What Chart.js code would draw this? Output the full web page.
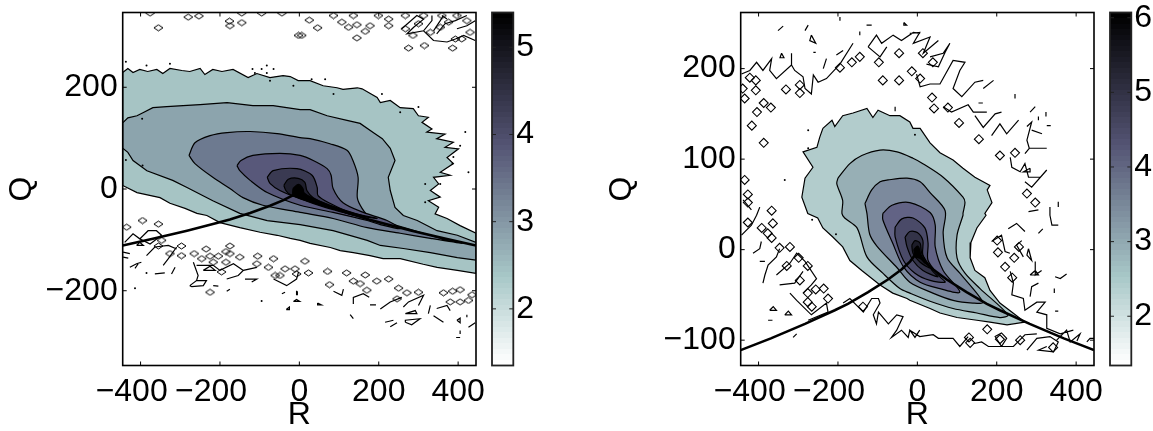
<!DOCTYPE html>
<html><head><meta charset="utf-8">
<style>html,body{margin:0;padding:0;background:#fff;overflow:hidden}
#wrap{position:relative;width:1153px;height:431px}
canvas{position:absolute;top:0}</style>
<script src="https://cdn.jsdelivr.net/npm/chart.js@4"></script>
</head><body><div id="wrap">
<canvas id="c1" style="left:0" width="516" height="431"></canvas>
<canvas id="c2" style="left:470px" width="100" height="431"></canvas>
<canvas id="c3" style="left:600px" width="534" height="431"></canvas>
<canvas id="c4" style="left:1090px" width="63" height="431"></canvas>
</div>
<script>
// ---- axis ticks ----
const xTicks=[-400,-200,0,200,400];
const leftYTicks=[-200,0,200];
const rightYTicks=[-100,0,100,200];
const leftBarTicks=[2,3,4,5];
const rightBarTicks=[2,3,4,5,6];
// ---- restricted Euler tail curve (R,Q) ----
const tailCurve=[[-445,-111],[-369,-98],[-283,-82],[-208,-67],[-175,-60],[-124,-47],[-74,-33],[-40,-22],[-18,-13],[-5,-5.5],[0,0],[5,-5.5],[18,-13],[40,-22],[74,-33],[124,-47],[175,-60],[208,-67],[283,-82],[369,-98],[445,-111]];
// ---- left panel contours ----
const leftL1=[[-445,229],[-432,237],[-419,229],[-402,235],[-382,231],[-359,235],[-344,227],[-326,237],[-296,233],[-276,231],[-250,237],[-238,225],[-218,235],[-195,231],[-167,235],[-129,219],[-107,227],[-74,219],[-41,223],[-23,221],[-3,213],[27,213],[60,203],[95,199],[110,196],[146,199],[158,197],[196,180],[204,170],[229,174],[254,160],[287,158],[300,144],[325,141],[309,131],[334,118],[321,112],[367,108],[346,99],[388,92],[367,82],[401,79],[372,62],[388,50],[355,33],[380,27],[338,23],[351,10],[330,-3],[355,-16],[325,-23],[351,-36],[342,-49],[372,-58],[405,-72],[445,-87],[445,-166],[398,-160],[347,-154],[312,-148],[254,-137],[211,-137],[178,-131],[136,-125],[103,-121],[78,-115],[27,-107],[2,-101],[-23,-97],[-56,-91],[-99,-85],[-150,-76],[-200,-66],[-233,-52],[-258,-48],[-288,-38],[-326,-28],[-351,-17],[-409,-7],[-445,7]];
const leftL2=[[-445,130],[-432,140],[-409,144],[-394,150],[-369,160],[-334,162],[-293,164],[-250,166],[-182,170],[-117,164],[-66,164],[2,156],[27,156],[70,144],[120,135],[153,129],[186,111],[209,99],[229,80],[241,56],[224,23],[229,-3],[241,-36],[262,-52],[297,-62],[347,-82],[398,-91],[445,-105],[445,-140],[398,-135],[330,-125],[262,-117],[204,-111],[171,-101],[85,-82],[2,-70],[-81,-62],[-150,-48],[-218,-23],[-283,3],[-319,17],[-384,36],[-419,56],[-432,72],[-445,80]];
const leftL3=[[-278,66],[-263,91],[-225,105],[-182,111],[-124,113],[-56,109],[2,101],[27,99],[77,89],[120,76],[135,56],[148,23],[146,-17],[158,-38],[178,-56],[229,-68],[312,-87],[372,-101],[410,-107],[330,-97],[254,-87],[171,-76],[85,-58],[2,-46],[-92,-32],[-142,-17],[-175,1],[-218,23],[-263,50]];
const leftL4=[[-157,46],[-147,56],[-117,66],[-49,70],[2,66],[35,56],[70,40],[80,27],[85,1],[110,-27],[161,-46],[221,-62],[254,-78],[204,-70],[171,-62],[85,-46],[2,-32],[-81,-7],[-124,17],[-150,36]];
const leftL5=[[-81,23],[-66,36],[-6,40],[32,27],[45,3],[47,-13],[77,-28],[128,-46],[196,-58],[128,-50],[85,-38],[2,-19],[-49,-3],[-74,11]];
const leftL6=[[-39,7],[-28,19],[-3,21],[14,13],[19,-3],[35,-17],[77,-32],[166,-54],[103,-40],[27,-23],[-23,-11],[-34,-3]];
const leftL7=[[-16,1],[-3,9],[9,1],[14,-13],[77,-34],[153,-54],[65,-36],[2,-19],[-16,-11]];
const leftFills=['#a6c4c4','#8ca4ad','#6d7a90','#58587a','#3a3a52','#1e1e2c','#000000'];
// ---- left panel isolated contours ----
const leftDiamonds=[[-355,317],[-280,338],[-253,340],[-176,330],[-175,321],[-145,327],[-2,302],[-376,346],[-145,346],[-95,346],[-44,346],[25,332],[6,302],[46,317],[86,341],[107,328],[124,318],[145,323],[136,341],[178,321],[166,310],[145,297],[199,341],[225,321],[225,334],[275,277],[315,282],[386,277],[286,302],[267,315],[300,325],[330,308],[355,318],[376,328],[393,295],[409,295],[430,308],[422,331],[359,341],[397,341],[267,341],[313,341],
[-395,-62],[-355,-69],[-435,-75],[-347,-101],[-355,-112],[-297,-112],[-326,-127],[-297,-131],[-265,-127],[-235,-118],[-175,-112],[-185,-123],[-175,-127],[-150,-134],[-105,-132],[-65,-137],[-246,-137],[-225,-132],[-204,-132],[-217,-144],[-185,-144],[-196,-163],[-225,-203],[-107,-147],[-78,-154],[-36,-157],[-11,-157],[-49,-170],[-61,-170],[-7,-167],
[14,-142],[23,-165],[71,-162],[119,-165],[166,-169],[76,-188],[136,-181],[153,-186],[195,-181],[225,-177],[250,-195],[271,-204],[300,-203],[363,-204],[386,-201],[405,-198],[170,-199],[246,-216],[435,-208],[380,-222],[405,-222],[426,-219]];
const leftBroken=[
[[-427,-154],[-410,-147],[-398,-144]],[[-406,-147],[-414,-156]],
[[-276,-190],[-259,-180],[-234,-180],[-242,-190],[-271,-192],[-276,-190]],
[[-267,-144],[-255,-170],[-259,-180]],[[-183,-177],[-154,-170],[-141,-160],[-107,-154]],
[[-217,-190],[-204,-191]],[[-364,-167],[-339,-165]],[[-322,-167],[-313,-154]],
[[-343,-150],[-330,-137],[-309,-114]],[[-444,-124],[-427,-127]],[[-444,-134],[-431,-136]],
[[-440,-105],[-419,-88],[-402,-98],[-381,-82],[-360,-82],[-347,-91],[-376,-108],[-402,-98]],
[[-410,-111],[-393,-111],[-402,-105],[-410,-111]],[[-385,-131],[-364,-114],[-330,-111],[-309,-118]],
[[-259,-150],[-217,-150],[-200,-160],[-166,-147],[-141,-160]],[[-242,-160],[-212,-160],[-225,-152],[-242,-160]],
[[-137,-177],[-107,-177],[-120,-183]],[[-183,-201],[-175,-197]],[[-44,-206],[-36,-203]],[[-5,-201],[-5,-209]],
[[-15,-221],[-7,-217],[1,-221],[-15,-221]],[[-33,-237],[-25,-232],[-25,-237],[-33,-237]],
[[-65,-177],[-32,-190],[-7,-177],[-2,-163]],
[[-7,-200],[-7,-209]],[[111,-197],[107,-209],[86,-201]],[[136,-226],[136,-213],[161,-206],[176,-213]],
[[178,-228],[193,-228]],[[204,-236],[229,-222],[258,-213]],[[262,-232],[275,-222],[313,-209],[300,-229]],
[[267,-262],[283,-267],[304,-255],[267,-258],[267,-262]],[[216,-262],[237,-258]],[[229,-271],[246,-263]],
[[330,-229],[325,-245]],[[346,-235],[372,-229],[380,-239]],[[338,-249],[363,-262]],
[[397,-258],[405,-254],[405,-263],[397,-258]],[[426,-272],[443,-263]],[[405,-278],[405,-285]],[[395,-292],[405,-292]],
[[128,-247],[136,-255]],[[46,-224],[56,-228],[46,-228],[46,-224]],[[267,-245],[292,-239],[296,-245],[267,-245]],[[422,-247],[422,-252]],
[[258,315],[296,341],[313,334],[288,318],[271,305],[313,311],[334,331],[334,341]],[[338,311],[355,331],[363,341]],
[[313,311],[338,292],[372,289],[393,295],[414,302],[443,292]],[[346,305],[367,325],[393,331],[422,341]],
[[359,341],[372,334]],[[397,315],[422,321],[443,331]]];
const leftSpecks=[[-437,250],[-385,243],[-326,246],[-118,236],[-95,236],[-82,243],[-65,236],[-112,228],[-82,228],[-74,213],[-15,203],[31,216],[65,216],[86,187],[208,187],[254,151],[300,161],[405,85],[418,112],[426,33],[388,63],[386,50],[317,10],[355,10],[317,-26],[-437,57],[-395,46],[-396,138],[-414,-195],[-95,-220],[-385,-165]];
// ---- right panel contours ----
const rightL1=[[-238,134],[-215,143],[-208,136],[-188,148],[-162,151],[-127,156],[-112,146],[-99,154],[-69,148],[-44,148],[-19,141],[-11,134],[7,134],[32,118],[57,107],[90,99],[115,90],[145,80],[183,71],[176,66],[188,52],[170,40],[173,38],[150,24],[135,8],[133,-9],[145,-23],[170,-31],[183,-45],[208,-59],[241,-70],[271,-80],[226,-83],[183,-80],[150,-78],[100,-75],[57,-70],[32,-65],[-19,-56],[-26,-54],[-62,-48],[-94,-39],[-140,-23],[-170,-12],[-188,3],[-213,14],[-238,24],[-251,35],[-276,40],[-291,58],[-283,79],[-263,91],[-288,108],[-253,113],[-246,124]];
const rightL2=[[-200,79],[-170,95],[-140,104],[-94,110],[-51,108],[-11,101],[14,95],[65,80],[115,58],[120,52],[115,40],[115,38],[100,16],[100,-9],[120,-26],[158,-43],[228,-72],[208,-75],[150,-70],[90,-65],[32,-57],[-19,-48],[-44,-43],[-87,-26],[-127,-8],[-152,24],[-183,35],[-190,40],[-188,54],[-203,73]];
const rightL3=[[-132,51],[-115,66],[-94,75],[-74,77],[-26,79],[7,75],[32,63],[70,43],[65,18],[75,-9],[107,-26],[165,-58],[140,-59],[90,-56],[39,-48],[-19,-36],[-51,-20],[-102,4],[-120,17],[-127,40]];
const rightL4=[[-87,40],[-64,49],[-19,52],[32,41],[45,27],[45,3],[65,-23],[107,-47],[57,-43],[7,-36],[-35,-19],[-62,7],[-87,33]];
const rightL5=[[-56,25],[-39,34],[-11,35],[19,24],[27,7],[27,-12],[57,-30],[70,-36],[32,-34],[-6,-26],[-35,-12],[-56,14]];
const rightL6=[[-31,14],[-19,20],[0,19],[14,10],[14,-6],[37,-23],[52,-30],[14,-23],[-11,-12],[-26,3]];
const rightL7=[[-14,5],[-6,10],[7,7],[11,-4],[32,-20],[7,-14],[-11,-4]];
const rightL8=[[-9,0],[0,4],[4,2],[9,-6],[20,-15],[8,-10],[-4,-8]];
const rightFills=['#b2cccc','#97afb5','#7c8a9d','#626385','#4a4a68','#333348','#1c1c28','#000000'];
// ---- right panel isolated contours ----
const rightDiamonds=[[-87,187],[-46,187],[-97,207],[-165,207],[-145,213],[-195,201],[-46,217],[-14,197],[-296,173],[-296,182],[-331,177],[-369,157],[-387,162],[-404,152],[-417,137],[-387,118],[-435,77],[-427,61],[-427,52],[-367,43],[-407,187],[-422,190],[-407,176],[-435,167],[-440,178],
[155,122],[105,140],[77,157],[42,156],[37,168],[7,189],[208,104],[246,107],[276,62],[297,52],[14,217],[39,207],
[-427,30],[-392,24],[-377,18],[-364,29],[-367,13],[-347,2],[-321,3],[-299,-9],[-276,-18],[-329,-18],[-296,-34],[-256,-44],[-236,-43],[-225,-54],[-276,-48],[-276,-58],[-266,-63],[-137,-63],
[203,-3],[201,10],[256,3],[244,-9],[221,-19],[239,-31],[176,-88],[130,-97],[133,-103],[208,-99],[259,-100],[342,-108]];
const rightBroken=[
[[-443,194],[-422,198],[-405,207],[-389,198],[-367,211],[-372,198],[-355,189],[-317,204],[-317,217]],
[[-317,204],[-309,198],[-288,191],[-283,178],[-267,172],[-262,193],[-250,185],[-229,189],[-195,205],[-162,228]],
[[-124,224],[-103,237],[-90,228],[-61,237],[-40,231],[-10,240],[7,239]],[[-124,224],[-94,213],[-77,224]],
[[-204,215],[-187,220]],[[-237,200],[-229,211]],[[-351,242],[-338,247]],[[-283,242],[-275,248]],
[[-267,237],[-256,228],[-271,231],[-267,237]],[[-342,217],[-336,212],[-346,212],[-342,217]],
[[-195,257],[-195,253]],[[-128,248],[-115,248]],[[-145,241],[-145,237]],[[-262,218],[-256,218]],
[[-34,251],[-27,248],[-34,248],[-34,251]],[[-56,158],[-56,153]],
[[-19,239],[6,240],[-10,228],[32,235],[15,217],[53,231]],[[32,213],[65,217],[82,228],[70,218],[53,202],[23,205]],
[[-2,194],[7,180],[32,183],[57,183],[90,209],[120,207],[107,198],[90,178],[112,169],[145,185],[166,187]],
[[166,178],[192,187]],[[65,158],[86,152],[128,160],[141,152],[175,152]],[[145,148],[166,135],[196,150],[212,152]],
[[187,126],[208,139],[225,128],[255,143]],[[154,162],[165,162]],[[246,172],[246,167]],[[284,152],[297,158]],
[[305,147],[305,143]],[[324,152],[324,147]],[[326,137],[336,137]],
[[276,136],[288,141],[276,121],[282,112],[271,106]],[[288,132],[314,128]],[[282,112],[326,112]],
[[234,102],[238,91],[259,86],[271,95],[280,80],[309,80]],[[271,75],[288,69],[326,88]],[[284,90],[267,86],[284,86],[284,90]],
[[280,42],[305,44]],[[334,47],[334,38]],[[355,53],[355,47]],
[[-389,-37],[-384,-28],[-376,-17],[-355,-8],[-347,1]],[[-355,-28],[-321,-15],[-304,-4],[-283,-13],[-254,-32],[-267,-39],[-288,-48]],
[[-347,-39],[-309,-37],[-288,-24]],[[-321,-48],[-304,-56],[-267,-72],[-229,-59],[-225,-69],[-275,-78]],
[[-372,-67],[-363,-63],[-355,-67],[-372,-67]],[[-334,-72],[-325,-68],[-317,-72],[-334,-72]],
[[-376,-78],[-365,-78]],[[-313,-97],[-304,-93]],[[-397,-13],[-384,-13]],
[[-187,-59],[-170,-54],[-136,-69],[-115,-54],[-98,-54],[-94,-59],[-111,-72],[-103,-82],[-98,-69],[-73,-82],[-52,-72],[-36,-74],[-52,-89],[-65,-97],[-40,-89],[-23,-97],[-19,-89],[-6,-97],[6,-89]],
[[-443,16],[-418,27],[-405,38]],[[-414,-4],[-397,1],[-393,9]],[[-439,55],[-418,44]],[[-397,47],[-405,38]],
[[-19,-89],[6,-96],[40,-94],[53,-98],[90,-98],[107,-107],[128,-96]],
[[141,-104],[162,-102],[179,-107],[212,-107],[196,-96],[212,-92],[225,-98],[212,-107],[242,-107],[271,-94],[301,-93]],
[[276,-111],[301,-98],[334,-96],[355,-102],[343,-113],[305,-111],[326,-107]],[[351,-100],[376,-89],[385,-102],[410,-93],[402,-101]],
[[427,-102],[435,-98],[445,-98]],[[187,9],[212,16],[221,-2],[233,-4]],[[263,10],[250,5],[267,-8]],[[280,1],[288,-12],[276,-6],[280,1]],
[[297,-13],[297,-28],[313,-23]],[[284,-28],[305,-28],[297,-23],[284,-28]],
[[234,-24],[242,-37],[238,-50],[267,-54],[271,-67],[301,-58],[322,-58],[301,-69],[326,-72],[326,-87],[360,-93],[393,-89]],
[[284,-52],[288,-41],[305,-37]],[[345,-43],[345,-48]],[[347,-30],[360,-32],[376,-27]],[[347,-68],[355,-68]],
[[229,23],[250,29],[271,20]],[[305,18],[316,23]],[[334,38],[339,27],[355,27]]];
const rightSpecks=[[-275,132],[-334,77],[-6,127],[-275,112],[-205,17],[-265,33]];
// ---- colour map control stops, dark to light ----
const boneStops=[[0,0,0,0],[0.375,84,84,116],[0.75,167,199,199],[1,255,255,255]];

const FONT={family:'"Liberation Sans",Arial,sans-serif',size:32};
const TITLE_FONT={family:'"Liberation Sans",Arial,sans-serif',size:32,lineHeight:1};
const fmt=v=>String(v).replace('-','\u2212');
// negative x labels keep their digits centred on the tick, the minus hangs to the left
const fmtX=v=>v<0?fmt(v)+'\u2007':fmt(v);
const pts=a=>a.map(p=>({x:p[0],y:p[1]}));
const closed=a=>pts(a.concat([a[0]]));
function flatDiamond(){const c=document.createElement('canvas');c.width=11;c.height=8;const g=c.getContext('2d');g.strokeStyle='#000';g.lineWidth=1;g.beginPath();g.moveTo(1,4);g.lineTo(5.5,1);g.lineTo(10,4);g.lineTo(5.5,7);g.closePath();g.stroke();return c;}
const frame={id:'frame',afterDraw(ch,a,o){const c=ch.ctx,A=ch.chartArea;c.save();c.strokeStyle=o.color||'#000';c.lineWidth=1;
 const x=ch.scales.x,y=ch.scales.y;
 if(!o.bar)for(const t of xTicks){const p=x.getPixelForValue(t);c.beginPath();c.moveTo(p,A.bottom);c.lineTo(p,A.bottom-4);c.moveTo(p,A.top);c.lineTo(p,A.top+4);c.stroke();}
 for(const t of y.ticks){const p=y.getPixelForValue(t.value);c.beginPath();c.moveTo(A.left,p);c.lineTo(A.left+4,p);c.moveTo(A.right,p);c.lineTo(A.right-4,p);c.stroke();}
 c.lineWidth=o.width||1.6;c.strokeRect(A.left,A.top,A.right-A.left,A.bottom-A.top);c.restore();}};
function fit(w,h){return s=>{if(w!==null)s.width=w;if(h!==null)s.height=h;s.paddingTop=s.paddingBottom=s.paddingLeft=s.paddingRight=0;};}
function mainChart(id,leftPad,rightPad,contours,fills,broken,diamonds,diamondStyle,dRadius,specks,yMin,yMax,yTicks,smoothFrom){
 const ds=[];
 ds.push({data:pts(tailCurve),showLine:true,borderColor:'#000',borderWidth:2.6,pointRadius:0,fill:false,order:-3});
 ds.push({data:pts(specks),showLine:false,pointRadius:1,pointBackgroundColor:'#000',pointBorderWidth:0,order:-2});
 ds.push({data:pts(diamonds),showLine:false,pointStyle:diamondStyle,pointRadius:dRadius,pointBorderColor:'#000',pointBackgroundColor:'rgba(0,0,0,0)',pointBorderWidth:1.1,order:-1});
 const flat=[];broken.forEach(b=>{pts(b).forEach(p=>flat.push(p));flat.push({x:NaN,y:NaN});});
 ds.push({data:flat,showLine:true,borderColor:'#000',borderWidth:1.2,pointRadius:0,fill:false,spanGaps:false,order:0});
 // outer contours get the highest order so that they paint first
 contours.forEach((c,i)=>ds.push({data:closed(c),showLine:true,fill:'shape',backgroundColor:fills[i],borderColor:'#000',borderWidth:1.2,pointRadius:0,tension:i>=smoothFrom?0.3:0,order:100-i}));
 new Chart(document.getElementById(id),{type:'scatter',data:{datasets:ds},plugins:[frame],options:{
  responsive:false,animation:false,events:[],
  layout:{padding:{top:12.5,right:rightPad,bottom:0,left:0}},
  plugins:{legend:{display:false},tooltip:{enabled:false},frame:{}},
  scales:{
   x:{type:'linear',position:'bottom',min:-445,max:445,afterFit:fit(null,65.5),afterBuildTicks:s=>{s.ticks=xTicks.map(v=>({value:v}));},
      grid:{display:false,drawTicks:false},border:{display:false},
      ticks:{font:FONT,color:'#000',padding:7,maxRotation:0,autoSkip:false,callback:fmtX},
      title:{display:true,text:'R',color:'#000',font:TITLE_FONT,padding:{top:0,bottom:0}}},
   y:{type:'linear',position:'left',min:yMin,max:yMax,afterFit:fit(leftPad,null),afterBuildTicks:s=>{s.ticks=yTicks.map(v=>({value:v}));},
      grid:{display:false,drawTicks:false},border:{display:false},
      ticks:{font:FONT,color:'#000',padding:5,autoSkip:false,callback:fmt},
      title:{display:true,text:'Q',color:'#000',font:TITLE_FONT,padding:{top:6,bottom:0}}}
  }}});
}
function boneColor(t){for(let i=1;i<boneStops.length;i++){const a=boneStops[i-1],b=boneStops[i];if(t<=b[0]){const f=(t-a[0])/(b[0]-a[0]);return 'rgb('+[1,2,3].map(k=>Math.round(a[k]+(b[k]-a[k])*f)).join(',')+')';}}return '#fff';}
function barChart(id,leftPad,rightPad,lo,hi,ticks){
 new Chart(document.getElementById(id),{type:'bar',data:{labels:[''],datasets:[{data:[[lo,hi]],categoryPercentage:1,barPercentage:1,borderSkipped:false,
   backgroundColor(ctx){const ch=ctx.chart,A=ch.chartArea;if(!A)return '#888';const g=ch.ctx.createLinearGradient(0,A.top,0,A.bottom);const n=64;for(let i=0;i<n;i++){const col=boneColor(i/(n-1));g.addColorStop(i/n,col);g.addColorStop((i+1)/n,col);}return g;}}]},
  plugins:[frame],options:{responsive:false,animation:false,events:[],
  layout:{padding:{top:12.5,left:leftPad,right:0,bottom:0}},
  plugins:{legend:{display:false},tooltip:{enabled:false},frame:{bar:true,color:'#222',width:1.8}},
  scales:{
   x:{display:true,afterFit:fit(null,65.5),grid:{display:false,drawTicks:false},border:{display:false},ticks:{display:false}},
   y:{type:'linear',position:'right',min:lo,max:hi,afterFit:fit(rightPad,null),afterBuildTicks:s=>{s.ticks=ticks.map(v=>({value:v}));},
      grid:{display:false,drawTicks:false},border:{display:false},ticks:{font:FONT,color:'#000',padding:3,autoSkip:false}}
  }}});
}
mainChart('c1',122.7,40,[leftL1,leftL2,leftL3,leftL4,leftL5,leftL6,leftL7],leftFills,leftBroken,leftDiamonds,flatDiamond(),3,leftSpecks,-347,347,leftYTicks,2);
mainChart('c3',140.7,40,[rightL1,rightL2,rightL3,rightL4,rightL5,rightL6,rightL7,rightL8],rightFills,rightBroken,rightDiamonds,'rectRot',4.5,rightSpecks,-128,262,rightYTicks,1);
barChart('c2',22,56.7,1.35,5.4,leftBarTicks);
barChart('c4',20,21.7,1.34,6.07,rightBarTicks);
</script></body></html>
